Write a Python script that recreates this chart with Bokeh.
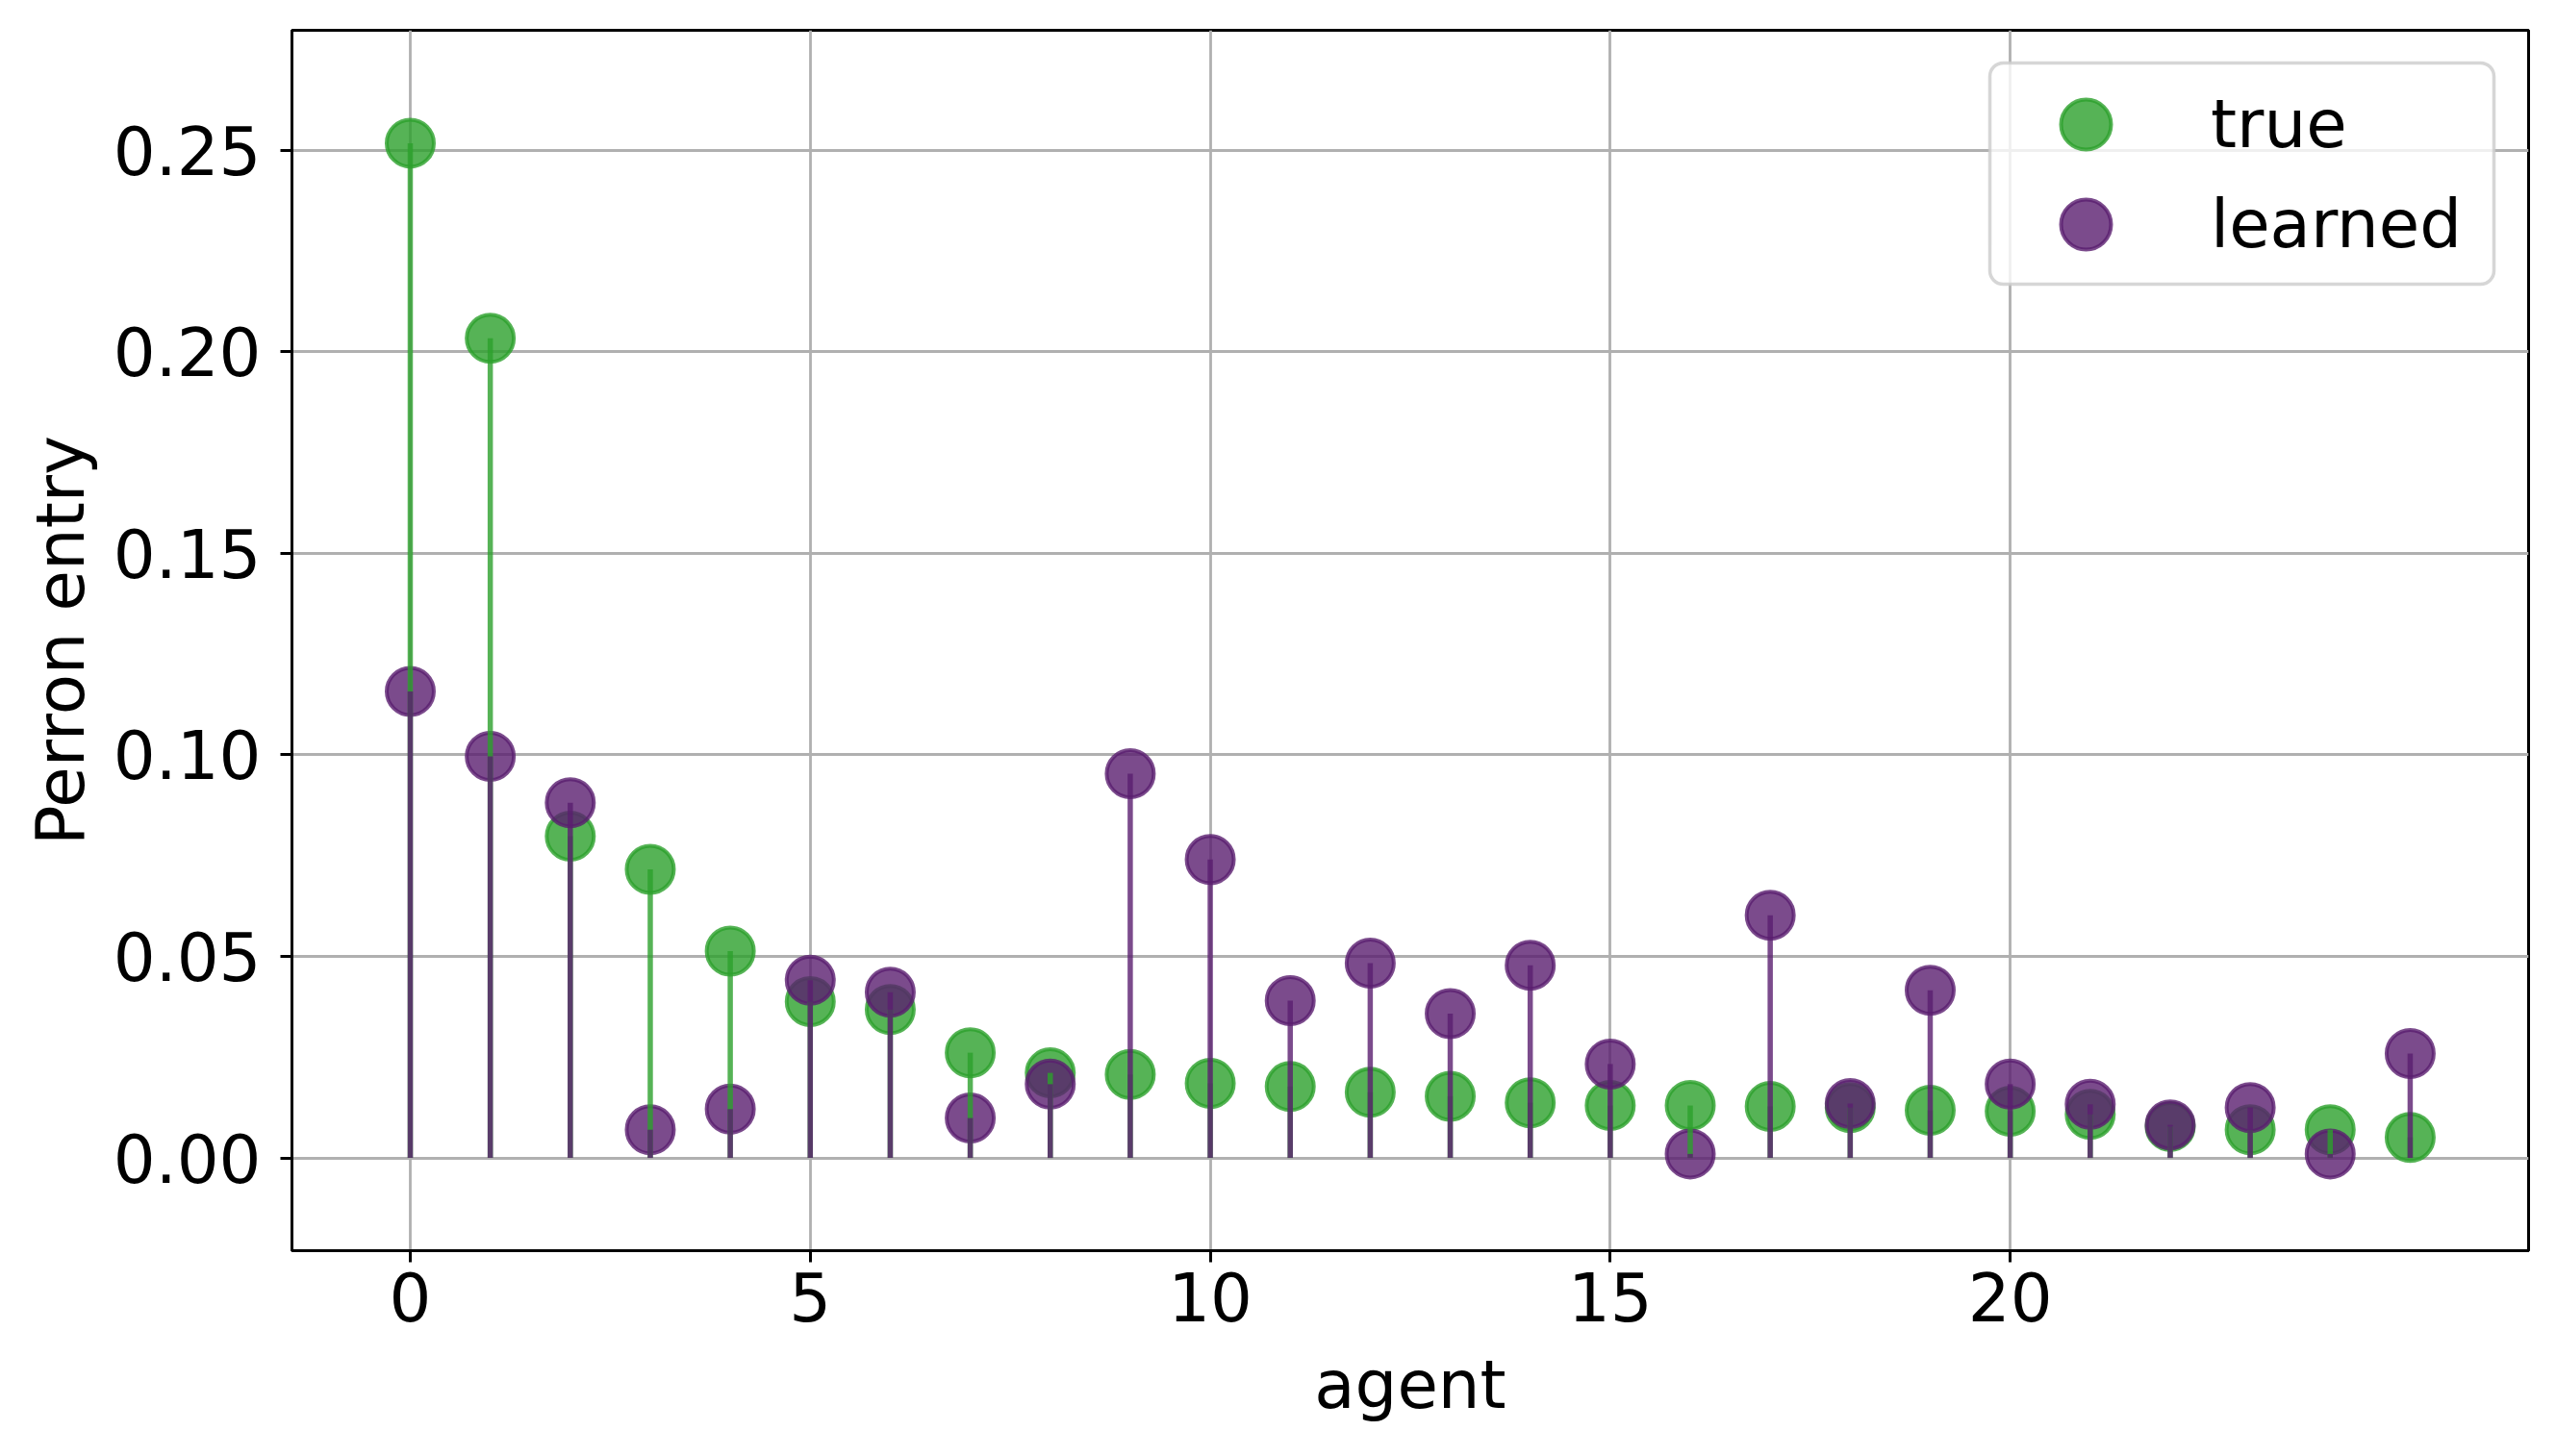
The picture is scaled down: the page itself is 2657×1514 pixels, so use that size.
from bokeh.plotting import figure
from bokeh.models import (ColumnDataSource, Range1d, FixedTicker, PrintfTickFormatter,
                          Legend, LegendItem, BoxAnnotation)
from bokeh.embed import file_html
from bokeh.resources import INLINE

# ---- data ----
agents = list(range(26))
true_vals = [0.2517, 0.2033, 0.0798, 0.0716, 0.0513, 0.0388, 0.0368, 0.0261, 0.0211, 0.0207,
             0.0185, 0.0177, 0.0163, 0.0153, 0.0137, 0.0130, 0.0130, 0.0128, 0.0125, 0.0118,
             0.0116, 0.0108, 0.0078, 0.0070, 0.0070, 0.0051]
learned_vals = [0.1157, 0.0996, 0.0881, 0.0070, 0.0121, 0.0441, 0.0411, 0.0099, 0.0183, 0.0953,
                0.0740, 0.0390, 0.0483, 0.0358, 0.0478, 0.0233, 0.0010, 0.0602, 0.0135, 0.0416,
                0.0183, 0.0133, 0.0082, 0.0125, 0.0010, 0.0259]
x_ticks = [0, 5, 10, 15, 20]
y_ticks = [0.0, 0.05, 0.10, 0.15, 0.20, 0.25]
series_names = ["true", "learned"]

GREEN = "#2ca02c"
PURPLE = "#5a1e6f"
FONT = "DejaVu Sans"
FS = "69px"

src_true = ColumnDataSource(dict(x=agents, y=true_vals, base=[0.0] * len(agents)))
src_learned = ColumnDataSource(dict(x=agents, y=learned_vals, base=[0.0] * len(agents)))

p = figure(width=2649, height=1506, output_backend="svg", toolbar_location=None,
           x_range=Range1d(-1.479, 26.48), y_range=Range1d(-0.0230, 0.2797),
           min_border_left=303, min_border_right=21, min_border_top=31, min_border_bottom=206)

p.background_fill_color = "white"
p.border_fill_color = "white"
p.outline_line_color = "black"
p.outline_line_width = 3

# markers
r_true = p.scatter("x", "y", source=src_true, size=49, fill_color=GREEN, fill_alpha=0.8,
                   line_color=GREEN, line_alpha=0.8, line_width=4)
r_learned = p.scatter("x", "y", source=src_learned, size=49, fill_color=PURPLE, fill_alpha=0.8,
                      line_color=PURPLE, line_alpha=0.8, line_width=4)
# stems
p.segment(x0="x", y0="base", x1="x", y1="y", source=src_true, line_color=GREEN,
          line_alpha=0.8, line_width=5.5)
p.segment(x0="x", y0="base", x1="x", y1="y", source=src_learned, line_color=PURPLE,
          line_alpha=0.8, line_width=5.5)

# axes
for ax in (p.xaxis[0], p.yaxis[0]):
    ax.axis_line_color = "black"
    ax.axis_line_width = 3
    ax.major_tick_line_color = "black"
    ax.major_tick_line_width = 3
    ax.major_tick_out = 12
    ax.major_tick_in = 0
    ax.minor_tick_line_color = None
    ax.major_label_text_font = FONT
    ax.major_label_text_font_size = FS
    ax.major_label_text_color = "black"
    ax.axis_label_text_font = FONT
    ax.axis_label_text_font_size = FS
    ax.axis_label_text_font_style = "normal"
    ax.axis_label_text_color = "black"

p.xaxis.ticker = FixedTicker(ticks=x_ticks)
p.yaxis.ticker = FixedTicker(ticks=y_ticks)
p.yaxis.formatter = PrintfTickFormatter(format="%.2f")
p.xaxis.axis_label = "agent"
p.yaxis.axis_label = "Perron entry"
p.xaxis.major_label_standoff = 10
p.yaxis.major_label_standoff = 20
p.xaxis.axis_label_standoff = 23
p.yaxis.axis_label_standoff = 12

for g in (p.xgrid[0], p.ygrid[0]):
    g.grid_line_color = "#b0b0b0"
    g.grid_line_width = 2.8

# legend frame
box = BoxAnnotation(left=1765, right=2289, bottom=1005, top=1235,
                    left_units="screen", right_units="screen",
                    top_units="screen", bottom_units="screen",
                    fill_color="white", fill_alpha=0.8,
                    line_color="#cccccc", line_alpha=0.8, line_width=3.5,
                    border_radius=14)
p.add_layout(box)

# one legend per entry so that the entries sit closer than their glyph boxes
legend_specs = [(series_names[0], r_true, (1800, 1106)),
                (series_names[1], r_learned, (1800, 1002))]
for name, rend, loc in legend_specs:
    lg = Legend(items=[LegendItem(label=name, renderers=[rend])],
                location=loc, glyph_width=130, glyph_height=130,
                padding=0, label_standoff=65, margin=0,
                label_text_font=FONT, label_text_font_size=FS, label_text_color="black",
                border_line_alpha=0, background_fill_alpha=0)
    p.add_layout(lg)

open("out.html", "w").write(file_html(p, INLINE))
